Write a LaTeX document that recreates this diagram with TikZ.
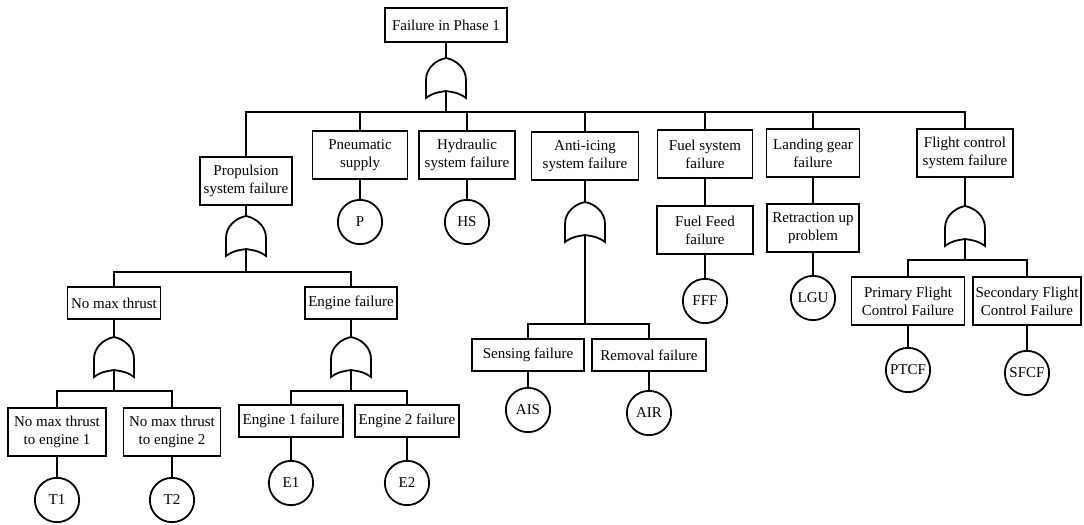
\documentclass[tikz,border=0pt]{standalone}
\usepackage{fontspec}
\setmainfont{Liberation Serif}
\begin{document}
\begin{tikzpicture}[x=0.7pt,y=-0.7pt,
    every node/.style={font=\fontsize{10.5}{12.5}\selectfont},
    event/.style={draw, line width=1.25pt, align=center, inner sep=1.5pt, minimum height=34pt, minimum width=#1},
    event/.default=66pt,
    short/.style={event=#1, minimum height=22pt},
    short/.default=64pt,
    basic/.style={draw, circle, line width=1.25pt, inner sep=0pt, minimum size=31pt},
    tree/.style={line width=1.25pt},
    pics/orgate/.style={code={
      \draw[line width=1.25pt] (-20,20) -- (-20,2) .. controls (-20,-10) and (-10,-18) .. (0,-20) .. controls (10,-18) and (20,-10) .. (20,2) -- (20,20) .. controls (12,14) and (5,14) .. (0,13) .. controls (-5,14) and (-12,14) .. (-20,20) -- cycle;
      \coordinate (-in) at (0,-20);
      \coordinate (-out) at (0,13);
    }}]
       \useasboundingbox (0,0) rectangle (1084,524);
       % top event and its gate
       \node[short=85pt, minimum height=24pt] (top) at (446,25) {Failure in Phase 1};
       \pic (g0) at (446,78) {orgate};
       \coordinate (b0) at (446,112);
       % first level
       \node[event=64pt] (prop) at (246,181) {Propulsion\\system failure};
       \node[event=66.5pt] (pneu) at (360,155) {Pneumatic\\supply};
       \node[event=67pt] (hyd) at (467,155) {Hydraulic\\system failure};
       \node[event=75pt] (anti) at (585,156) {Anti-icing\\system failure};
       \node[event=66.5pt] (fuel) at (705,154) {Fuel system\\failure};
       \node[event=65pt] (land) at (813,153) {Landing gear\\failure};
       \node[event=67pt] (flight) at (965,153) {Flight control\\system failure};
       % pneumatic, hydraulic
       \node[basic] (p) at (360,222) {P};
       \node[basic] (hs) at (467,222) {HS};
       % anti-icing
       \pic (ganti) at (585,222) {orgate};
       \coordinate (banti) at (585,324);
       \node[short=78pt] (sens) at (528,355) {Sensing failure};
       \node[short=80pt] (rem) at (649,355) {Removal failure};
       \node[basic] (ais) at (528,410) {AIS};
       \node[basic] (air) at (649,413) {AIR};
       % fuel, landing gear
       \node[event=67pt] (feed) at (705,230) {Fuel Feed\\failure};
       \node[basic] (fff) at (705,301) {FFF};
       \node[event=64pt] (retr) at (813,228) {Retraction up\\problem};
       \node[basic] (lgu) at (813,298) {LGU};
       % flight control
       \pic (gflight) at (965,226) {orgate};
       \coordinate (bflight) at (965,260);
       \node[event=79pt] (prim) at (908,301) {Primary Flight\\Control Failure};
       \node[event=76pt] (sec) at (1027,301) {Secondary Flight\\Control Failure};
       \node[basic] (ptcf) at (908,370) {PTCF};
       \node[basic] (sfcf) at (1027,373) {SFCF};
       % propulsion
       \pic (gprop) at (246,236) {orgate};
       \coordinate (bprop) at (246,272);
       \node[short=65pt] (nmt) at (114,303) {No max thrust};
       \node[short=64pt] (eng) at (351,303) {Engine failure};
       \pic (gnmt) at (114,357) {orgate};
       \coordinate (bnmt) at (114,391);
       \pic (geng) at (351,357) {orgate};
       \coordinate (beng) at (351,391);
       \node[event=69pt] (nmt1) at (57,432) {No max thrust\\to engine 1};
       \node[event=68pt] (nmt2) at (172,432) {No max thrust\\to engine 2};
       \node[short=73pt] (e1f) at (291,421) {Engine 1 failure};
       \node[short=73pt] (e2f) at (407,421) {Engine 2 failure};
       \node[basic] (t1) at (57,500) {T1};
       \node[basic] (t2) at (172,500) {T2};
       \node[basic] (e1) at (291,483) {E1};
       \node[basic] (e2) at (407,483) {E2};
       % connectors
       \draw[tree] (top.south) -- (g0-in);
       \draw[tree] (g0-out) -- (b0) -| (prop.north);
       \draw[tree] (b0) -| (pneu.north);
       \draw[tree] (b0) -| (hyd.north);
       \draw[tree] (b0) -| (anti.north);
       \draw[tree] (b0) -| (fuel.north);
       \draw[tree] (b0) -| (land.north);
       \draw[tree] (b0) -| (flight.north);
       \draw[tree] (pneu.south) -- (p.north);
       \draw[tree] (hyd.south) -- (hs.north);
       \draw[tree] (anti.south) -- (ganti-in);
       \draw[tree] (ganti-out) -- (banti) -| (sens.north);
       \draw[tree] (banti) -| (rem.north);
       \draw[tree] (sens.south) -- (ais.north);
       \draw[tree] (rem.south) -- (air.north);
       \draw[tree] (fuel.south) -- (feed.north);
       \draw[tree] (feed.south) -- (fff.north);
       \draw[tree] (land.south) -- (retr.north);
       \draw[tree] (retr.south) -- (lgu.north);
       \draw[tree] (flight.south) -- (gflight-in);
       \draw[tree] (gflight-out) -- (bflight) -| (prim.north);
       \draw[tree] (bflight) -| (sec.north);
       \draw[tree] (prim.south) -- (ptcf.north);
       \draw[tree] (sec.south) -- (sfcf.north);
       \draw[tree] (prop.south) -- (gprop-in);
       \draw[tree] (gprop-out) -- (bprop) -| (nmt.north);
       \draw[tree] (bprop) -| (eng.north);
       \draw[tree] (nmt.south) -- (gnmt-in);
       \draw[tree] (eng.south) -- (geng-in);
       \draw[tree] (gnmt-out) -- (bnmt) -| (nmt1.north);
       \draw[tree] (bnmt) -| (nmt2.north);
       \draw[tree] (geng-out) -- (beng) -| (e1f.north);
       \draw[tree] (beng) -| (e2f.north);
       \draw[tree] (nmt1.south) -- (t1.north);
       \draw[tree] (nmt2.south) -- (t2.north);
       \draw[tree] (e1f.south) -- (e1.north);
       \draw[tree] (e2f.south) -- (e2.north);
\end{tikzpicture}
\end{document}
